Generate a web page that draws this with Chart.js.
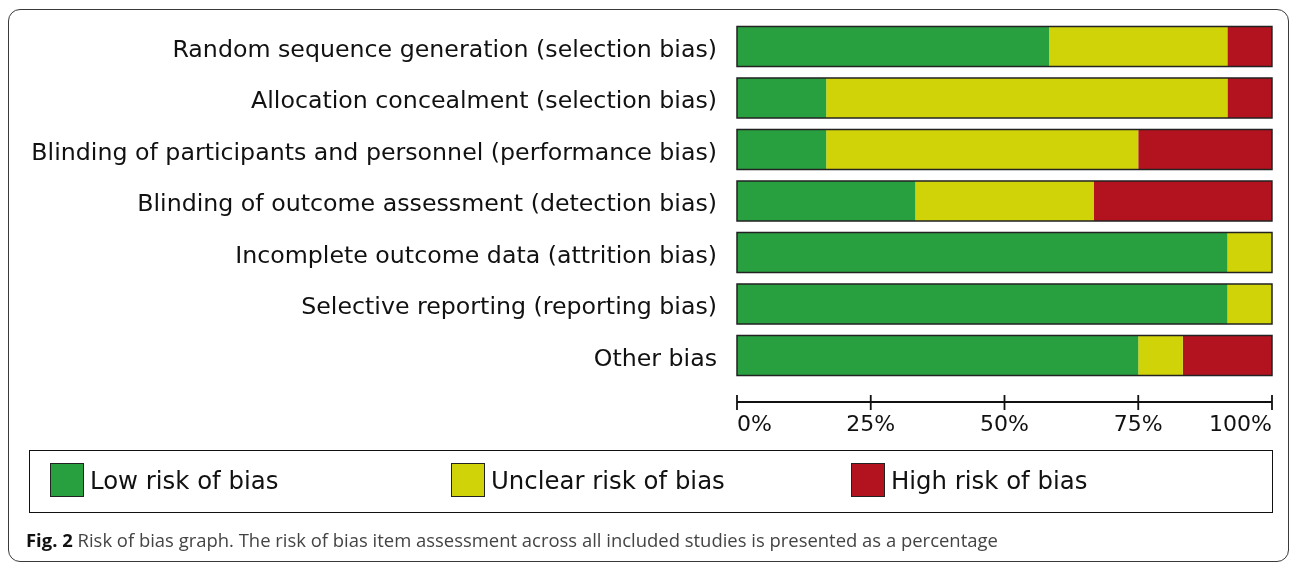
<!DOCTYPE html>
<html>
<head>
<meta charset="utf-8">
<script src="https://cdn.jsdelivr.net/npm/chart.js@4"></script>
<style>
  html, body { margin:0; padding:0; background:#fff; }
  #wrap { position:relative; width:1292px; height:563px; overflow:hidden; }
  #frame { position:absolute; left:8px; top:9px; width:1279px; height:551px; border:1.5px solid #3a3a3a; border-radius:12px; }
  canvas { position:absolute; left:0; top:0; }
  #legend { position:absolute; left:29px; top:450px; width:1242px; height:61px; border:1.8px solid #111; }
  .item { position:absolute; top:12px; height:35px; font-family:"DejaVu Sans"; font-size:24.4px; color:#111; line-height:35px; white-space:nowrap; }
  .sw { position:absolute; left:0; top:0; width:32px; height:32px; border:1.5px solid #222; }
  .lbl { position:absolute; left:40px; top:0px; }
  #caption { position:absolute; left:26px; top:527px; font-family:"Open Sans"; font-size:18.45px; color:#444; white-space:nowrap; }
  #caption b { color:#111; }
</style>
</head>
<body>
<div id="wrap">
  <div id="frame"></div>
  <canvas id="c" width="1292" height="563"></canvas>
  <div id="legend"></div>
  <div id="caption"><b>Fig. 2</b> Risk of bias graph. The risk of bias item assessment across all included studies is presented as a percentage</div>
</div>
<script>
const categories = [
  'Random sequence generation (selection bias)',
  'Allocation concealment (selection bias)',
  'Blinding of participants and personnel (performance bias)',
  'Blinding of outcome assessment (detection bias)',
  'Incomplete outcome data (attrition bias)',
  'Selective reporting (reporting bias)',
  'Other bias'
];
const lowRisk     = [58.33, 16.67, 16.67, 33.33, 91.67, 91.67, 75.00];
const unclearRisk = [33.33, 75.00, 58.33, 33.33,  8.33,  8.33,  8.33];
const highRisk    = [ 8.33,  8.33, 25.00, 33.33,  0.00,  0.00, 16.67];
const seriesNames = ['Low risk of bias', 'Unclear risk of bias', 'High risk of bias'];
const seriesColors = ['#29a040', '#d1d309', '#b3121f'];
const tickLabels = ['0%', '25%', '50%', '75%', '100%'];

// HTML legend built from series arrays
const legend = document.getElementById('legend');
const legendX = [20, 421, 821];
seriesNames.forEach((n, i) => {
  const d = document.createElement('div');
  d.className = 'item';
  d.style.left = legendX[i] + 'px';
  d.innerHTML = '<div class="sw" style="background:' + seriesColors[i] + '"></div><div class="lbl">' + n + '</div>';
  legend.appendChild(d);
});

const AXIS_Y = 402;

const outlinePlugin = {
  id: 'outline',
  afterDatasetsDraw(chart) {
    const ctx = chart.ctx;
    const xs = chart.scales.x;
    const meta = chart.getDatasetMeta(0);
    ctx.save();
    ctx.strokeStyle = '#222';
    ctx.lineWidth = 1.5;
    meta.data.forEach((bar, i) => {
      const total = chart.data.datasets.reduce((s, ds) => s + ds.data[i], 0);
      const x0 = xs.getPixelForValue(0);
      const x1 = xs.getPixelForValue(total);
      const p = bar.getProps(['y', 'height'], true);
      ctx.strokeRect(x0, p.y - p.height / 2, x1 - x0, p.height);
    });
    // axis line and ticks
    ctx.strokeStyle = '#111';
    ctx.lineWidth = 1.8;
    ctx.beginPath();
    ctx.moveTo(xs.getPixelForValue(0), AXIS_Y);
    ctx.lineTo(xs.getPixelForValue(100), AXIS_Y);
    xs.ticks.forEach(t => {
      const px = xs.getPixelForValue(t.value);
      ctx.moveTo(px, AXIS_Y - 7);
      ctx.lineTo(px, AXIS_Y + 8);
    });
    ctx.stroke();
    ctx.restore();
  }
};

function zeroPad(scale) {
  scale.paddingLeft = 0; scale.paddingRight = 0;
  scale.paddingTop = 0; scale.paddingBottom = 0;
}

new Chart(document.getElementById('c'), {
  type: 'bar',
  data: {
    labels: categories,
    datasets: [lowRisk, unclearRisk, highRisk].map((d, i) => ({
      label: seriesNames[i],
      data: d,
      backgroundColor: seriesColors[i],
      borderWidth: 0,
      categoryPercentage: 1.0,
      barPercentage: 0.777
    }))
  },
  options: {
    indexAxis: 'y',
    responsive: false,
    animation: false,
    events: [],
    layout: { padding: { top: 20.75, right: 20, left: 0, bottom: 0 } },
    plugins: { legend: { display: false }, tooltip: { enabled: false } },
    scales: {
      x: {
        stacked: true,
        min: 0, max: 100,
        grid: { display: false, drawTicks: false },
        border: { display: false },
        afterFit(scale) { scale.height = 563 - 381.25; zeroPad(scale); },
        ticks: {
          stepSize: 25,
          align: 'inner',
          padding: 31,
          color: '#111',
          font: { family: 'DejaVu Sans', size: 22 },
          maxRotation: 0,
          callback: (v, i) => tickLabels[i]
        }
      },
      y: {
        stacked: true,
        grid: { display: false, drawTicks: false },
        border: { display: false },
        afterFit(scale) { scale.width = 737; zeroPad(scale); },
        ticks: {
          autoSkip: false,
          padding: 20,
          labelOffset: 4,
          color: '#111',
          font: { family: 'DejaVu Sans', size: 23.7 }
        }
      }
    }
  },
  plugins: [outlinePlugin]
});
</script>
</body>
</html>
